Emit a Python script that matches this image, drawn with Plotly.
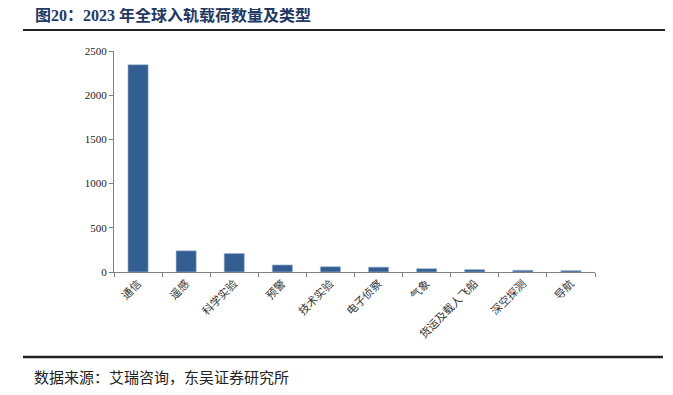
import plotly.graph_objects as go

categories = ["通信", "遥感", "科学实验", "预警", "技术实验", "电子侦察", "气象", "货运及载人飞船", "深空探测", "导航"]
values = [2345, 240, 210, 80, 60, 55, 38, 28, 20, 17]
y_ticks = [0, 500, 1000, 1500, 2000, 2500]

OFF = 8  # page body margin
W, H = 673 - OFF, 395 - OFF
L, T = 114 - OFF, 51 - OFF
R = W - (595 - OFF)
B = H - (272 - OFF)
pw, ph = W - L - R, H - T - B

def px(x):
    return (x - OFF - L) / pw

def py(y):
    return 1 - (y - OFF - T) / ph

fig = go.Figure(go.Bar(
    x=categories, y=values,
    marker=dict(color="#335e92", line=dict(color="#a9bdd8", width=0.6)),
    width=0.42,
))

fig.update_layout(
    width=W, height=H,
    margin=dict(l=L, r=R, t=T, b=B),
    paper_bgcolor="white", plot_bgcolor="white",
    showlegend=False,
    font=dict(family="Liberation Serif, Noto Sans CJK SC", size=11, color="#222"),
    xaxis=dict(
        showline=True, linecolor="#808080", linewidth=1,
        ticks="outside", ticklen=4, tickcolor="#808080", tickson="boundaries",
        tickangle=-45, tickfont=dict(family="Noto Sans CJK SC", size=11, color="#333"),
        showgrid=False,
    ),
    yaxis=dict(
        range=[0, 2500], tickvals=y_ticks,
        showline=True, linecolor="#808080", linewidth=1,
        ticks="outside", ticklen=4, tickcolor="#808080",
        showgrid=False, zeroline=False,
        tickfont=dict(family="Liberation Serif", size=11, color="#222"),
    ),
    shapes=[
        dict(type="line", xref="paper", yref="paper", x0=px(23), x1=px(673), y0=py(30), y1=py(30),
             line=dict(color="#222", width=2)),
        dict(type="line", xref="paper", yref="paper", x0=px(23), x1=px(663), y0=py(357), y1=py(357),
             line=dict(color="#222", width=2.5)),
    ],
    annotations=[
        dict(text="<b>图20：2023 年全球入轨载荷数量及类型</b>", xref="paper", yref="paper",
             x=px(33), y=py(15), xanchor="left", yanchor="middle", showarrow=False,
             font=dict(family="Liberation Serif, Noto Sans CJK SC", size=16, color="#1f3864")),
        dict(text="数据来源：艾瑞咨询，东吴证券研究所", xref="paper", yref="paper",
             x=px(32), y=py(376), xanchor="left", yanchor="middle", showarrow=False,
             font=dict(family="Noto Sans CJK SC", size=15, color="#222")),
    ],
)

fig.write_html("out.html")
